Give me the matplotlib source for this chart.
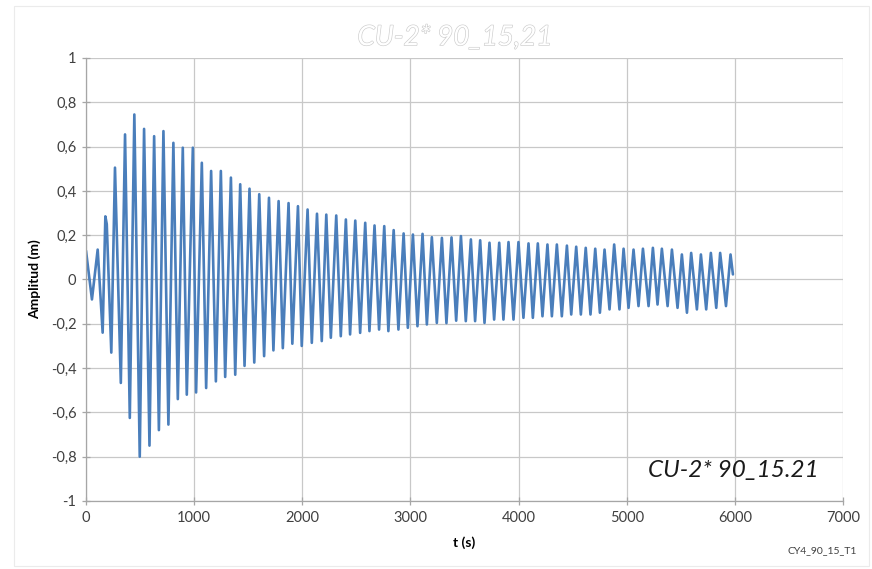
import matplotlib
matplotlib.use("Agg")
import matplotlib.pyplot as plt
import matplotlib.patheffects as pe
from matplotlib.patches import Rectangle

# Time (s) and amplitude (m) at the turning points of the recorded oscillation
t_s = [
    0, 55, 108, 154, 179, 192, 234, 268, 322, 361, 405, 447, 497, 537, 587,
    630, 674, 716, 762, 808, 849, 895, 932, 988, 1018, 1071, 1111, 1157, 1201,
    1247, 1287, 1340, 1380, 1426, 1466, 1512, 1556, 1602, 1647, 1692, 1733,
    1781, 1820, 1873, 1908, 1960, 1995, 2049, 2088, 2136, 2180, 2222, 2264,
    2314, 2356, 2403, 2442, 2490, 2535, 2582, 2621, 2668, 2710, 2758, 2796,
    2845, 2889, 2937, 2976, 3023, 3065, 3112, 3152, 3198, 3244, 3291, 3333,
    3380, 3423, 3467, 3512, 3559, 3598, 3645, 3685, 3731, 3774, 3821, 3860,
    3907, 3953, 3999, 4045, 4092, 4132, 4178, 4221, 4267, 4308, 4354, 4400,
    4447, 4487, 4533, 4576, 4621, 4665, 4709, 4752, 4795, 4841, 4884, 4933,
    4971, 5017, 5063, 5109, 5150, 5202, 5242, 5285, 5325, 5378, 5418, 5470,
    5510, 5557, 5596, 5649, 5686, 5735, 5778, 5828, 5864, 5918, 5960, 5982,
]
amp_m = [
    0.13, -0.09, 0.135, -0.24, 0.285, 0.25, -0.33, 0.505, -0.467, 0.655,
    -0.625, 0.745, -0.80, 0.68, -0.75, 0.647, -0.68, 0.67, -0.655, 0.617,
    -0.54, 0.595, -0.52, 0.595, -0.51, 0.527, -0.49, 0.49, -0.46, 0.49,
    -0.44, 0.46, -0.43, 0.43, -0.39, 0.41, -0.375, 0.385, -0.346, 0.369,
    -0.32, 0.354, -0.31, 0.345, -0.29, 0.331, -0.30, 0.316, -0.286, 0.297,
    -0.278, 0.293, -0.263, 0.289, -0.256, 0.271, -0.248, 0.266, -0.241, 0.256,
    -0.233, 0.244, -0.226, 0.241, -0.233, 0.223, -0.226, 0.208, -0.218, 0.203,
    -0.211, 0.206, -0.203, 0.191, -0.196, 0.188, -0.197, 0.19, -0.186, 0.196,
    -0.188, 0.181, -0.188, 0.177, -0.196, 0.166, -0.181, 0.166, -0.181, 0.169,
    -0.181, 0.169, -0.173, 0.163, -0.173, 0.163, -0.166, 0.158, -0.166, 0.158,
    -0.166, 0.153, -0.158, 0.148, -0.158, 0.143, -0.158, 0.139, -0.15, 0.135,
    -0.135, 0.158, -0.135, 0.139, -0.128, 0.135, -0.12, 0.139, -0.12, 0.143,
    -0.113, 0.139, -0.12, 0.135, -0.128, 0.113, -0.15, 0.12, -0.135, 0.113,
    -0.135, 0.12, -0.128, 0.12, -0.12, 0.113, 0.023,
]

x_ticks = [0, 1000, 2000, 3000, 4000, 5000, 6000, 7000]
y_ticks = [-1, -0.8, -0.6, -0.4, -0.2, 0, 0.2, 0.4, 0.6, 0.8, 1]
y_tick_labels = ["-1", "-0,8", "-0,6", "-0,4", "-0,2", "0",
                 "0,2", "0,4", "0,6", "0,8", "1"]

plt.rcParams["font.family"] = ["Lato", "DejaVu Sans"]

fig = plt.figure(figsize=(8.72, 5.69), dpi=100)
fig.patch.set_facecolor("white")

# thin frame around the chart area
fig.patches.append(Rectangle((14 / 872, 3 / 569), 855 / 872, 560 / 569,
                             transform=fig.transFigure, fill=False,
                             edgecolor="#ebebeb", linewidth=0.8))

ax = fig.add_axes([86 / 872, 1 - 501 / 569, 757 / 872, 443 / 569])
ax.plot(t_s, amp_m, color="#4a7ebb", linewidth=1.9,
        solid_joinstyle="round", solid_capstyle="round")

ax.set_xlim(0, 7000)
ax.set_ylim(-1, 1)
ax.set_xticks(x_ticks)
ax.set_xticklabels([str(v) for v in x_ticks])
ax.set_yticks(y_ticks)
ax.set_yticklabels(y_tick_labels)
ax.grid(True, color="#c8c8c8", linewidth=0.9)
ax.set_axisbelow(True)
for side in ("top", "right"):
    ax.spines[side].set_visible(False)
for side in ("left", "bottom"):
    ax.spines[side].set_color("#a6a6a6")
    ax.spines[side].set_linewidth(0.9)
ax.tick_params(axis="both", direction="inout", length=6, width=0.9,
               color="#a6a6a6", labelsize=10.5, labelcolor="#404040", pad=4)

ax.set_xlabel("t (s)", fontsize=10, fontweight="bold", labelpad=8)
ax.set_ylabel("Amplitud (m)", fontsize=10, fontweight="bold", labelpad=7)

# hollow chart title
fig.text(455 / 872, 1 - 37 / 569, "CU-2* 90_15,21", ha="center", va="center",
         fontsize=20, style="italic", color="white",
         path_effects=[pe.Stroke(linewidth=0.9, foreground="#cccccc"),
                       pe.Normal()])

ax.text(0.968, 0.045, "CU-2* 90_15.21", transform=ax.transAxes,
        ha="right", va="bottom", fontsize=17.5, style="italic", color="#1a1a1a")

fig.text(822 / 872, 1 - 551 / 569, "CY4_90_15_T1", ha="center", va="center",
         fontsize=7.5, color="#404040")

fig.savefig("out.png", dpi=100, facecolor="white")
